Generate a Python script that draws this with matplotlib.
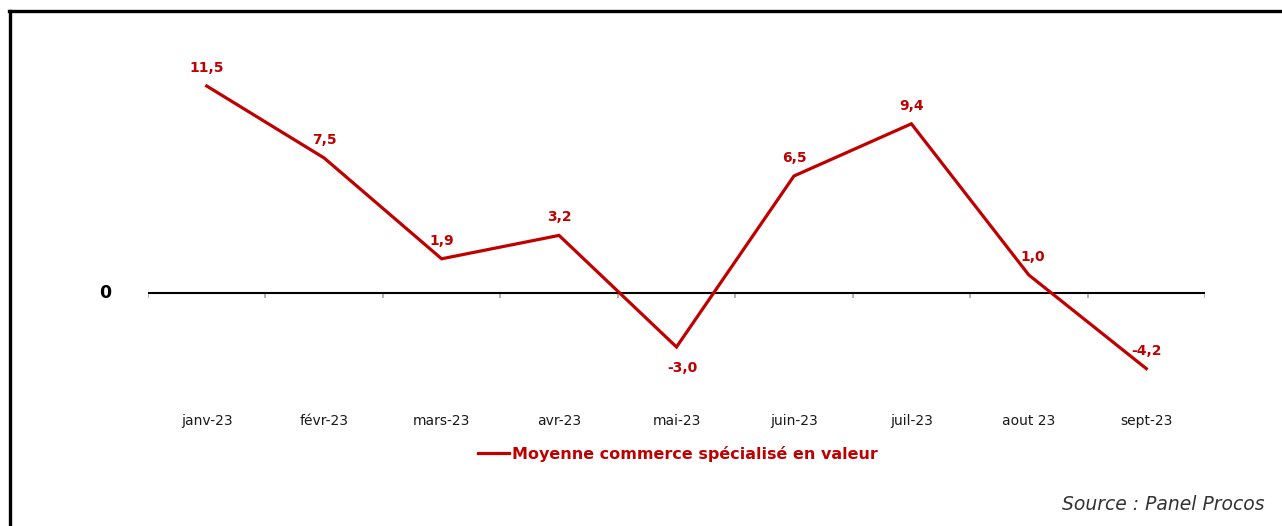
import matplotlib
matplotlib.use("Agg")
import matplotlib.pyplot as plt
from matplotlib.lines import Line2D

mois = ["janv-23", "févr-23", "mars-23", "avr-23", "mai-23",
        "juin-23", "juil-23", "aout 23", "sept-23"]
valeurs = [11.5, 7.5, 1.9, 3.2, -3.0, 6.5, 9.4, 1.0, -4.2]
etiquettes = ["11,5", "7,5", "1,9", "3,2", "-3,0", "6,5", "9,4", "1,0", "-4,2"]
serie = "Moyenne commerce spécialisé en valeur"
source = "Source : Panel Procos"

ROUGE = "#C00000"
W, H = 1282, 526

fig = plt.figure(figsize=(W / 100, H / 100), dpi=100)
fig.patch.set_facecolor("white")

# zone de tracé : de x=148 à x=1205 px, de y=30 à y=400 px
ax = fig.add_axes([148 / W, 1 - 400 / H, (1205 - 148) / W, 370 / H])
ax.set_xlim(-0.5, len(mois) - 0.5)
ax.set_ylim(-(400 - 293) / 18, (293 - 30) / 18)
for s in ax.spines.values():
    s.set_visible(False)
ax.set_yticks([])

# axe du zéro + petites graduations entre les catégories
ax.axhline(0, color="black", lw=1.5, zorder=2)
bords = [i - 0.5 for i in range(len(mois) + 1)]
ax.vlines(bords, -0.25, 0, color="#a6a6a6", lw=1.2, zorder=1)

x = list(range(len(mois)))
ax.plot(x, valeurs, color=ROUGE, lw=2.3, solid_joinstyle="miter", zorder=3)

for xi, v, lab in zip(x, valeurs, etiquettes):
    if lab == "-3,0":
        dx, dy = 4, -15
    elif lab == "1,0":
        dx, dy = 3, 13
    else:
        dx, dy = 0, 13
    ax.annotate(lab, (xi, v), xytext=(dx, dy), textcoords="offset points",
                ha="center", va="center", color=ROUGE, fontsize=10, fontweight="bold")

ax.set_xticks(x)
ax.set_xticklabels(mois, fontsize=10, color="#1a1a1a")
ax.tick_params(axis="x", length=0, pad=10)

fig.text(105 / W, 1 - 293 / H, "0", ha="center", va="center",
         fontsize=12.5, fontweight="bold", color="black")

poignee = Line2D([], [], color=ROUGE, lw=2.3)
leg = fig.legend([poignee], [serie], loc="center", bbox_to_anchor=(678 / W, 1 - 454 / H),
                 frameon=False, handlelength=1.9, handletextpad=0.2,
                 prop={"weight": "bold", "size": 11.5})
for t in leg.get_texts():
    t.set_color(ROUGE)

fig.text(1265 / W, 1 - 505 / H, source, ha="right", va="center",
         fontsize=13.5, style="italic", color="#333333", fontweight="light")

# cadre : bord haut et bord gauche
fig.add_artist(Line2D([10 / W, 10 / W], [0, 1 - 11 / H], color="black", lw=2.4,
                      transform=fig.transFigure))
fig.add_artist(Line2D([9 / W, 1], [1 - 11 / H, 1 - 11 / H], color="black", lw=2.4,
                      transform=fig.transFigure))

fig.savefig("out.png", dpi=100)
